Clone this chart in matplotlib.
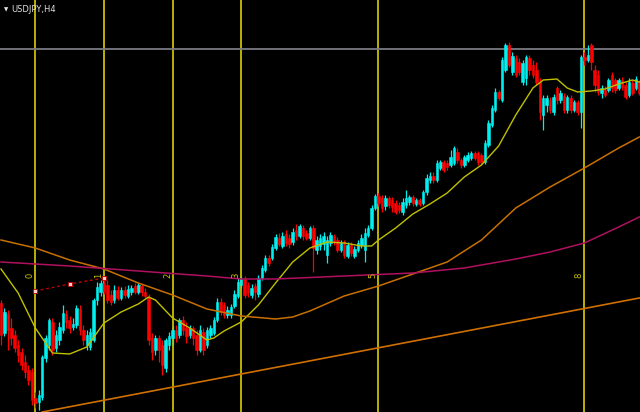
import matplotlib
matplotlib.use("Agg")
import matplotlib.pyplot as plt
import numpy as np

# USDJPY H4 candles, price in pips above the bottom of the window
open_ = [109, 79, 98, 84, 77, 67, 60, 50, 42, 40,
         14, 10, 15, 54, 67, 90, 64, 72, 82, 98,
         92, 85, 87, 103, 82, 67, 65, 72, 112, 120,
         129, 127, 117, 112, 122, 114, 122, 116, 120, 126,
         120, 126, 120, 115, 74, 62, 74, 67, 44, 67,
         74, 82, 77, 92, 84, 77, 84, 77, 62, 80,
         67, 77, 79, 92, 110, 107, 97, 97, 106, 116,
         127, 133, 127, 117, 126, 118, 134, 142, 154, 154,
         164, 174, 166, 178, 174, 170, 182, 176, 184, 179,
         174, 184, 162, 166, 168, 157, 169, 176, 172, 162,
         170, 156, 167, 156, 162, 167, 162, 177, 184, 204,
         216, 214, 206, 214, 212, 209, 207, 200, 207, 210,
         215, 208, 212, 209, 220, 232, 236, 232, 244, 250,
         249, 247, 249, 260, 252, 247, 252, 254, 259, 259,
         257, 250, 267, 287, 302, 320, 312, 342, 367, 340,
         354, 350, 330, 334, 354, 347, 342, 330, 297, 307,
         312, 300, 324, 312, 316, 302, 314, 302, 310, 300,
         355, 352, 367, 342, 337, 319, 322, 322, 337, 332,
         324, 332, 327, 317, 329, 324, 330]
high = [112, 104, 102, 94, 82, 72, 64, 57, 47, 44,
        20, 22, 57, 77, 94, 94, 82, 90, 107, 102,
        96, 94, 107, 107, 87, 82, 84, 114, 130, 132,
        134, 132, 122, 127, 126, 125, 126, 127, 127, 129,
        129, 128, 124, 118, 79, 77, 77, 72, 74, 80,
        86, 87, 94, 96, 90, 87, 86, 82, 87, 84,
        85, 87, 95, 114, 114, 110, 106, 108, 122, 134,
        136, 136, 130, 128, 129, 137, 147, 157, 157, 168,
        178, 179, 180, 182, 178, 184, 188, 188, 187, 182,
        186, 187, 176, 178, 180, 176, 180, 178, 175, 172,
        172, 170, 170, 166, 172, 178, 184, 187, 207, 218,
        219, 217, 217, 216, 215, 212, 210, 214, 222, 217,
        217, 214, 214, 222, 238, 240, 240, 252, 252, 252,
        252, 262, 266, 264, 254, 257, 260, 261, 261, 261,
        259, 272, 292, 307, 324, 322, 355, 369, 370, 360,
        357, 354, 352, 357, 357, 352, 350, 334, 317, 317,
        315, 318, 326, 322, 319, 317, 317, 312, 312, 357,
        360, 367, 369, 347, 342, 327, 326, 334, 340, 334,
        334, 335, 330, 334, 332, 336, 332]
low = [67, 76, 62, 67, 60, 50, 42, 34, 27, 7,
       4, 2, 12, 50, 62, 57, 60, 67, 79, 84,
       79, 82, 84, 77, 67, 62, 62, 70, 107, 116,
       118, 109, 107, 109, 112, 112, 114, 114, 117, 118,
       118, 116, 114, 67, 52, 57, 50, 37, 40, 62,
       67, 70, 74, 77, 69, 74, 67, 57, 60, 57,
       64, 74, 77, 90, 97, 94, 94, 94, 104, 114,
       124, 114, 115, 114, 112, 115, 132, 140, 146, 152,
       162, 166, 164, 166, 164, 167, 172, 174, 172, 172,
       172, 140, 158, 162, 162, 149, 166, 167, 160, 160,
       154, 154, 156, 154, 160, 164, 150, 175, 182, 202,
       206, 200, 202, 204, 200, 198, 199, 197, 204, 207,
       206, 206, 206, 207, 217, 229, 229, 230, 242, 240,
       242, 245, 247, 249, 244, 245, 250, 252, 252, 247,
       248, 248, 265, 285, 300, 312, 310, 340, 345, 337,
       335, 337, 327, 327, 337, 334, 327, 292, 282, 300,
       299, 297, 308, 309, 299, 299, 299, 300, 297, 284,
       347, 350, 342, 320, 317, 314, 315, 320, 320, 319,
       322, 322, 313, 315, 317, 322, 317]
close = [77, 100, 82, 74, 64, 57, 47, 40, 32, 12,
         9, 17, 55, 74, 92, 62, 77, 85, 99, 90,
         84, 88, 104, 82, 72, 77, 80, 112, 125, 129,
         121, 112, 110, 122, 114, 122, 117, 123, 124, 120,
         127, 120, 116, 72, 60, 74, 62, 47, 72, 76,
         82, 74, 92, 82, 76, 84, 74, 62, 82, 62,
         82, 84, 92, 110, 100, 97, 102, 105, 118, 130,
         133, 117, 119, 124, 120, 134, 144, 154, 149, 165,
         175, 168, 176, 169, 168, 180, 176, 186, 176, 174,
         184, 164, 172, 174, 176, 172, 177, 170, 162, 169,
         157, 167, 159, 163, 169, 174, 179, 184, 204, 216,
         209, 204, 214, 207, 205, 200, 202, 210, 214, 215,
         209, 212, 208, 220, 234, 236, 232, 249, 250, 242,
         245, 255, 264, 252, 247, 255, 257, 259, 254, 250,
         250, 269, 289, 304, 320, 314, 352, 367, 347, 356,
         337, 340, 349, 355, 342, 337, 330, 300, 314, 314,
         302, 315, 312, 319, 302, 315, 302, 310, 300, 355,
         352, 357, 350, 327, 320, 324, 317, 332, 324, 322,
         332, 325, 315, 330, 319, 333, 319]

# moving averages at some bars
fast_bars = [0, 5, 10, 15, 20, 25, 30, 35, 40, 43, 45, 50, 55, 60, 62, 65, 70, 75,
             80, 85, 90, 95, 100, 105, 108, 110, 115, 120, 125, 130, 135, 140, 145,
             150, 155, 158, 162, 165, 168, 172, 176, 180, 184, 186]
fast_ma = [143, 119, 84, 59, 58, 65, 89, 100, 108, 115, 112, 94, 84, 72, 74, 81, 90, 107,
           129, 150, 164, 170, 169, 166, 166, 172, 184, 198, 208, 219, 235, 247, 266,
           297, 324, 332, 333, 324, 320, 321, 323, 328, 332, 330]
mid_bars = [0, 10, 20, 30, 40, 50, 60, 70, 80, 85, 90, 100, 110, 120, 130, 140, 150,
            160, 170, 180, 186]
mid_ma = [172, 164, 152, 143, 129, 117, 103, 96, 93, 95, 101, 116, 126, 138, 150, 172,
          204, 225, 244, 264, 275]
slow_bars = [0, 20, 40, 60, 70, 80, 100, 120, 135, 150, 160, 170, 180, 186]
slow_ma = [150, 146, 141, 136, 133, 133, 136, 139, 144, 153, 160, 169, 185, 195]

# fibonacci time zones
fib_bars = [10, 30, 50, 70, 110, 170]
fib_labels = ["0", "1", "2", "3", "5", "8"]
fib_base_bars = [10, 20, 30]
fib_base_price = [121, 128, 134]

trend_pts = [(12, 0), (186, 114)]
hline_price = 363.5

bg = "black"
up_col = "#00f0f0"
dn_col = "#ff0000"
yel = "#c8c000"

fig = plt.figure(figsize=(6.4, 4.12), dpi=100, facecolor=bg)
ax = fig.add_axes([0, 0, 1, 1], facecolor=bg)

x = np.arange(len(close))
o = np.array(open_)
c = np.array(close)
up = c >= o
cols = np.where(up, up_col, dn_col)

ax.vlines(x, low, high, colors=cols, lw=0.9, zorder=3)
bottom = np.minimum(o, c)
height = np.maximum(np.abs(c - o), 0.8)
ax.bar(x, height, bottom=bottom, width=0.72, color=cols, edgecolor=cols,
       lw=0.4, zorder=4)

for b in fib_bars:
    ax.axvline(b, color=yel, lw=1.3, zorder=2)
for b, t in zip(fib_bars, fib_labels):
    ax.text(b - 1.5, 137, t, color=yel, fontsize=6, rotation=90,
            ha="center", va="center", zorder=6)
ax.plot(fib_base_bars, fib_base_price, color="#c00000", lw=1, ls=(0, (2, 2)),
        marker="s", ms=3, mfc="#ffd0d0", mec="#c00000", mew=0.6, zorder=6)

ax.plot(fast_bars, fast_ma, color="#c0c000", lw=1, zorder=5)
ax.plot(mid_bars, mid_ma, color="#c87000", lw=1.1, zorder=5)
ax.plot(slow_bars, slow_ma, color="#b01060", lw=1.1, zorder=5)
ax.axline(trend_pts[0], trend_pts[1], color="#d07000", lw=1.2, zorder=5)
ax.axhline(hline_price, color="#7a7a84", lw=1.3, zorder=2)

ax.set_xlim(-0.29, 186.2)
ax.set_ylim(0, 412)
ax.axis("off")

fig.text(0.006, 0.982, "\u25bc", color="#e0e0e0", fontsize=4, va="top", ha="left")
fig.text(0.018, 0.988, "USDJPY,H4", color="#e0e0e0", fontsize=6, va="top", ha="left")

fig.savefig("out.png", dpi=100, facecolor=bg)
